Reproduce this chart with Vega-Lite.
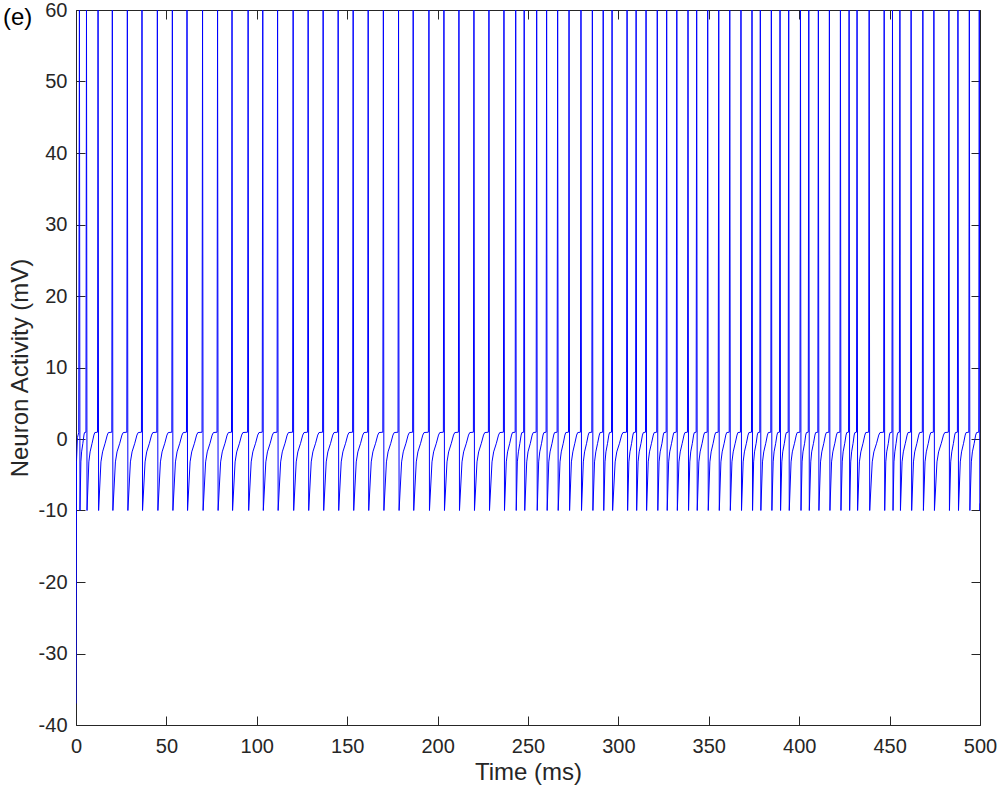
{
  "$schema": "https://vega.github.io/schema/vega-lite/v6.json",
  "width": 904,
  "height": 715,
  "autosize": "none",
  "padding": {"left": 76, "top": 10, "right": 18, "bottom": 63},
  "background": "white",
  "title": {"text": "(e)", "anchor": "start", "frame": "group", "dx": -73, "dy": 34, "fontSize": 24, "fontWeight": "normal", "font": "Liberation Sans", "color": "#000000"},
  "config": {
    "view": {"stroke": null},
    "font": "Liberation Sans",
    "axis": {"domainColor": "#262626", "tickColor": "#262626", "labelColor": "#262626", "titleColor": "#262626", "domainWidth": 1, "tickWidth": 1, "grid": false, "labelFont": "Liberation Sans", "titleFont": "Liberation Sans", "labelFontSize": 20, "titleFontSize": 24, "titleFontWeight": "normal", "tickSize": -9, "labelExpr": "toString(datum.value)"}
  },
  "datasets": {
    "trace": [
{"t":0,"v":-37},{"t":0.3,"v":-3},{"t":0.8,"v":0.2},{"t":1.5,"v":0.9},
{"t":1.9,"v":60},{"t":2.2,"v":-10},{"t":2.7,"v":-3.2},{"t":3.1,"v":-1.8},{"t":3.8,"v":-0.6},{"t":4.4,"v":0.55},{"t":4.7,"v":0.9},{"t":5.5,"v":0.95},
{"t":5.8,"v":60},{"t":6.1,"v":-10},{"t":7.1,"v":-3.2},{"t":7.8,"v":-1.8},{"t":8.9,"v":-0.6},{"t":9.9,"v":0.55},{"t":10.4,"v":0.9},{"t":11.9,"v":0.95},
{"t":12.2,"v":60},{"t":12.5,"v":-10},{"t":13.8,"v":-3.2},{"t":14.7,"v":-1.8},{"t":16.1,"v":-0.6},{"t":17.3,"v":0.55},{"t":17.9,"v":0.9},{"t":19.8,"v":0.95},
{"t":20.1,"v":60},{"t":20.4,"v":-10},{"t":21.8,"v":-3.2},{"t":22.7,"v":-1.8},{"t":24.2,"v":-0.6},{"t":25.4,"v":0.55},{"t":26.1,"v":0.9},{"t":28.1,"v":0.95},
{"t":28.4,"v":60},{"t":28.7,"v":-10},{"t":30.1,"v":-3.2},{"t":31.0,"v":-1.8},{"t":32.5,"v":-0.6},{"t":33.7,"v":0.55},{"t":34.4,"v":0.9},{"t":36.2,"v":0.95},
{"t":36.5,"v":60},{"t":36.8,"v":-10},{"t":38.2,"v":-3.2},{"t":39.1,"v":-1.8},{"t":40.6,"v":-0.6},{"t":41.8,"v":0.55},{"t":42.5,"v":0.9},{"t":44.7,"v":0.95},
{"t":45.0,"v":60},{"t":45.3,"v":-10},{"t":46.7,"v":-3.2},{"t":47.6,"v":-1.8},{"t":49.1,"v":-0.6},{"t":50.3,"v":0.55},{"t":51.0,"v":0.9},{"t":53.0,"v":0.95},
{"t":53.3,"v":60},{"t":53.6,"v":-10},{"t":55.0,"v":-3.2},{"t":55.9,"v":-1.8},{"t":57.4,"v":-0.6},{"t":58.6,"v":0.55},{"t":59.3,"v":0.9},{"t":61.1,"v":0.95},
{"t":61.4,"v":60},{"t":61.7,"v":-10},{"t":63.1,"v":-3.2},{"t":64.0,"v":-1.8},{"t":65.5,"v":-0.6},{"t":66.7,"v":0.55},{"t":67.4,"v":0.9},{"t":69.7,"v":0.95},
{"t":70.0,"v":60},{"t":70.3,"v":-10},{"t":71.7,"v":-3.2},{"t":72.6,"v":-1.8},{"t":74.1,"v":-0.6},{"t":75.3,"v":0.55},{"t":76.0,"v":0.9},{"t":78.0,"v":0.95},
{"t":78.3,"v":60},{"t":78.6,"v":-10},{"t":80.0,"v":-3.2},{"t":80.9,"v":-1.8},{"t":82.4,"v":-0.6},{"t":83.6,"v":0.55},{"t":84.3,"v":0.9},{"t":86.0,"v":0.95},
{"t":86.3,"v":60},{"t":86.6,"v":-10},{"t":88.0,"v":-3.2},{"t":88.9,"v":-1.8},{"t":90.4,"v":-0.6},{"t":91.6,"v":0.55},{"t":92.3,"v":0.9},{"t":94.9,"v":0.95},
{"t":95.2,"v":60},{"t":95.5,"v":-10},{"t":96.9,"v":-3.2},{"t":97.8,"v":-1.8},{"t":99.3,"v":-0.6},{"t":100.5,"v":0.55},{"t":101.2,"v":0.9},{"t":103.0,"v":0.95},
{"t":103.3,"v":60},{"t":103.6,"v":-10},{"t":105.0,"v":-3.2},{"t":105.9,"v":-1.8},{"t":107.4,"v":-0.6},{"t":108.6,"v":0.55},{"t":109.3,"v":0.9},{"t":111.2,"v":0.95},
{"t":111.5,"v":60},{"t":111.8,"v":-10},{"t":113.2,"v":-3.2},{"t":114.1,"v":-1.8},{"t":115.6,"v":-0.6},{"t":116.8,"v":0.55},{"t":117.5,"v":0.9},{"t":119.8,"v":0.95},
{"t":120.1,"v":60},{"t":120.4,"v":-10},{"t":121.8,"v":-3.2},{"t":122.7,"v":-1.8},{"t":124.2,"v":-0.6},{"t":125.4,"v":0.55},{"t":126.1,"v":0.9},{"t":128.1,"v":0.95},
{"t":128.4,"v":60},{"t":128.7,"v":-10},{"t":130.1,"v":-3.2},{"t":131.0,"v":-1.8},{"t":132.5,"v":-0.6},{"t":133.7,"v":0.55},{"t":134.4,"v":0.9},{"t":136.4,"v":0.95},
{"t":136.7,"v":60},{"t":137.0,"v":-10},{"t":138.4,"v":-3.2},{"t":139.3,"v":-1.8},{"t":140.8,"v":-0.6},{"t":142.0,"v":0.55},{"t":142.7,"v":0.9},{"t":144.7,"v":0.95},
{"t":145.0,"v":60},{"t":145.3,"v":-10},{"t":146.7,"v":-3.2},{"t":147.6,"v":-1.8},{"t":149.1,"v":-0.6},{"t":150.3,"v":0.55},{"t":151.0,"v":0.9},{"t":153.0,"v":0.95},
{"t":153.3,"v":60},{"t":153.6,"v":-10},{"t":155.0,"v":-3.2},{"t":155.9,"v":-1.8},{"t":157.4,"v":-0.6},{"t":158.6,"v":0.55},{"t":159.3,"v":0.9},{"t":161.3,"v":0.95},
{"t":161.6,"v":60},{"t":161.9,"v":-10},{"t":163.3,"v":-3.2},{"t":164.2,"v":-1.8},{"t":165.7,"v":-0.6},{"t":166.9,"v":0.55},{"t":167.6,"v":0.9},{"t":169.7,"v":0.95},
{"t":170.0,"v":60},{"t":170.3,"v":-10},{"t":171.7,"v":-3.2},{"t":172.6,"v":-1.8},{"t":174.1,"v":-0.6},{"t":175.3,"v":0.55},{"t":176.0,"v":0.9},{"t":178.1,"v":0.95},
{"t":178.4,"v":60},{"t":178.7,"v":-10},{"t":180.1,"v":-3.2},{"t":181.0,"v":-1.8},{"t":182.5,"v":-0.6},{"t":183.7,"v":0.55},{"t":184.4,"v":0.9},{"t":186.2,"v":0.95},
{"t":186.5,"v":60},{"t":186.8,"v":-10},{"t":188.2,"v":-3.2},{"t":189.1,"v":-1.8},{"t":190.6,"v":-0.6},{"t":191.8,"v":0.55},{"t":192.5,"v":0.9},{"t":194.9,"v":0.95},
{"t":195.2,"v":60},{"t":195.5,"v":-10},{"t":196.9,"v":-3.2},{"t":197.8,"v":-1.8},{"t":199.3,"v":-0.6},{"t":200.5,"v":0.55},{"t":201.2,"v":0.9},{"t":203.2,"v":0.95},
{"t":203.5,"v":60},{"t":203.8,"v":-10},{"t":205.2,"v":-3.2},{"t":206.1,"v":-1.8},{"t":207.6,"v":-0.6},{"t":208.8,"v":0.55},{"t":209.5,"v":0.9},{"t":211.5,"v":0.95},
{"t":211.8,"v":60},{"t":212.1,"v":-10},{"t":213.5,"v":-3.2},{"t":214.4,"v":-1.8},{"t":215.9,"v":-0.6},{"t":217.1,"v":0.55},{"t":217.8,"v":0.9},{"t":219.8,"v":0.95},
{"t":220.1,"v":60},{"t":220.4,"v":-10},{"t":221.8,"v":-3.2},{"t":222.7,"v":-1.8},{"t":224.2,"v":-0.6},{"t":225.4,"v":0.55},{"t":226.1,"v":0.9},{"t":228.1,"v":0.95},
{"t":228.4,"v":60},{"t":228.7,"v":-10},{"t":230.1,"v":-3.2},{"t":231.0,"v":-1.8},{"t":232.5,"v":-0.6},{"t":233.7,"v":0.55},{"t":234.4,"v":0.9},{"t":236.4,"v":0.95},
{"t":236.7,"v":60},{"t":237.0,"v":-10},{"t":238.0,"v":-3.2},{"t":238.7,"v":-1.8},{"t":239.9,"v":-0.6},{"t":240.9,"v":0.55},{"t":241.4,"v":0.9},{"t":242.9,"v":0.95},
{"t":243.2,"v":60},{"t":243.5,"v":-10},{"t":244.1,"v":-3.2},{"t":244.7,"v":-1.8},{"t":245.5,"v":-0.6},{"t":246.2,"v":0.55},{"t":246.6,"v":0.9},{"t":247.6,"v":0.95},
{"t":247.9,"v":60},{"t":248.2,"v":-10},{"t":249.3,"v":-3.2},{"t":250.0,"v":-1.8},{"t":251.3,"v":-0.6},{"t":252.3,"v":0.55},{"t":252.9,"v":0.9},{"t":254.5,"v":0.95},
{"t":254.8,"v":60},{"t":255.1,"v":-10},{"t":255.9,"v":-3.2},{"t":256.5,"v":-1.8},{"t":257.5,"v":-0.6},{"t":258.3,"v":0.55},{"t":258.8,"v":0.9},{"t":260.0,"v":0.95},
{"t":260.3,"v":60},{"t":260.6,"v":-10},{"t":261.5,"v":-3.2},{"t":262.2,"v":-1.8},{"t":263.3,"v":-0.6},{"t":264.2,"v":0.55},{"t":264.7,"v":0.9},{"t":266.1,"v":0.95},
{"t":266.4,"v":60},{"t":266.7,"v":-10},{"t":267.7,"v":-3.2},{"t":268.4,"v":-1.8},{"t":269.5,"v":-0.6},{"t":270.4,"v":0.55},{"t":270.9,"v":0.9},{"t":272.4,"v":0.95},
{"t":272.7,"v":60},{"t":273.0,"v":-10},{"t":274.0,"v":-3.2},{"t":274.8,"v":-1.8},{"t":275.9,"v":-0.6},{"t":276.9,"v":0.55},{"t":277.5,"v":0.9},{"t":279.0,"v":0.95},
{"t":279.3,"v":60},{"t":279.6,"v":-10},{"t":280.6,"v":-3.2},{"t":281.3,"v":-1.8},{"t":282.4,"v":-0.6},{"t":283.3,"v":0.55},{"t":283.8,"v":0.9},{"t":285.3,"v":0.95},
{"t":285.6,"v":60},{"t":285.9,"v":-10},{"t":286.8,"v":-3.2},{"t":287.5,"v":-1.8},{"t":288.5,"v":-0.6},{"t":289.4,"v":0.55},{"t":289.9,"v":0.9},{"t":291.3,"v":0.95},
{"t":291.6,"v":60},{"t":291.9,"v":-10},{"t":292.6,"v":-3.2},{"t":293.1,"v":-1.8},{"t":294.0,"v":-0.6},{"t":294.7,"v":0.55},{"t":295.1,"v":0.9},{"t":296.2,"v":0.95},
{"t":296.5,"v":60},{"t":296.8,"v":-10},{"t":298.2,"v":-3.2},{"t":299.1,"v":-1.8},{"t":300.6,"v":-0.6},{"t":301.8,"v":0.55},{"t":302.5,"v":0.9},{"t":304.5,"v":0.95},
{"t":304.8,"v":60},{"t":305.1,"v":-10},{"t":305.8,"v":-3.2},{"t":306.4,"v":-1.8},{"t":307.3,"v":-0.6},{"t":308.0,"v":0.55},{"t":308.4,"v":0.9},{"t":309.5,"v":0.95},
{"t":309.8,"v":60},{"t":310.1,"v":-10},{"t":310.9,"v":-3.2},{"t":311.5,"v":-1.8},{"t":312.5,"v":-0.6},{"t":313.3,"v":0.55},{"t":313.8,"v":0.9},{"t":315.0,"v":0.95},
{"t":315.3,"v":60},{"t":315.6,"v":-10},{"t":316.5,"v":-3.2},{"t":317.2,"v":-1.8},{"t":318.3,"v":-0.6},{"t":319.3,"v":0.55},{"t":319.8,"v":0.9},{"t":321.2,"v":0.95},
{"t":321.5,"v":60},{"t":321.8,"v":-10},{"t":322.5,"v":-3.2},{"t":323.1,"v":-1.8},{"t":324.1,"v":-0.6},{"t":324.8,"v":0.55},{"t":325.2,"v":0.9},{"t":326.4,"v":0.95},
{"t":326.7,"v":60},{"t":327.0,"v":-10},{"t":327.8,"v":-3.2},{"t":328.4,"v":-1.8},{"t":329.4,"v":-0.6},{"t":330.3,"v":0.55},{"t":330.7,"v":0.9},{"t":332.0,"v":0.95},
{"t":332.3,"v":60},{"t":332.6,"v":-10},{"t":333.5,"v":-3.2},{"t":334.2,"v":-1.8},{"t":335.3,"v":-0.6},{"t":336.3,"v":0.55},{"t":336.8,"v":0.9},{"t":338.2,"v":0.95},
{"t":338.5,"v":60},{"t":338.8,"v":-10},{"t":339.5,"v":-3.2},{"t":340.0,"v":-1.8},{"t":340.9,"v":-0.6},{"t":341.6,"v":0.55},{"t":342.0,"v":0.9},{"t":343.0,"v":0.95},
{"t":343.3,"v":60},{"t":343.6,"v":-10},{"t":344.5,"v":-3.2},{"t":345.2,"v":-1.8},{"t":346.3,"v":-0.6},{"t":347.2,"v":0.55},{"t":347.7,"v":0.9},{"t":349.1,"v":0.95},
{"t":349.4,"v":60},{"t":349.7,"v":-10},{"t":350.6,"v":-3.2},{"t":351.3,"v":-1.8},{"t":352.4,"v":-0.6},{"t":353.3,"v":0.55},{"t":353.8,"v":0.9},{"t":355.2,"v":0.95},
{"t":355.5,"v":60},{"t":355.8,"v":-10},{"t":356.7,"v":-3.2},{"t":357.4,"v":-1.8},{"t":358.5,"v":-0.6},{"t":359.4,"v":0.55},{"t":359.9,"v":0.9},{"t":361.3,"v":0.95},
{"t":361.6,"v":60},{"t":361.9,"v":-10},{"t":362.8,"v":-3.2},{"t":363.5,"v":-1.8},{"t":364.6,"v":-0.6},{"t":365.6,"v":0.55},{"t":366.1,"v":0.9},{"t":367.5,"v":0.95},
{"t":367.8,"v":60},{"t":368.1,"v":-10},{"t":369.0,"v":-3.2},{"t":369.7,"v":-1.8},{"t":370.8,"v":-0.6},{"t":371.7,"v":0.55},{"t":372.2,"v":0.9},{"t":373.6,"v":0.95},
{"t":373.9,"v":60},{"t":374.2,"v":-10},{"t":374.8,"v":-3.2},{"t":375.3,"v":-1.8},{"t":376.2,"v":-0.6},{"t":376.8,"v":0.55},{"t":377.2,"v":0.9},{"t":378.2,"v":0.95},
{"t":378.5,"v":60},{"t":378.8,"v":-10},{"t":379.7,"v":-3.2},{"t":380.4,"v":-1.8},{"t":381.5,"v":-0.6},{"t":382.4,"v":0.55},{"t":382.9,"v":0.9},{"t":384.3,"v":0.95},
{"t":384.6,"v":60},{"t":384.9,"v":-10},{"t":385.6,"v":-3.2},{"t":386.1,"v":-1.8},{"t":387.0,"v":-0.6},{"t":387.7,"v":0.55},{"t":388.1,"v":0.9},{"t":389.1,"v":0.95},
{"t":389.4,"v":60},{"t":389.7,"v":-10},{"t":390.4,"v":-3.2},{"t":390.9,"v":-1.8},{"t":391.8,"v":-0.6},{"t":392.5,"v":0.55},{"t":392.9,"v":0.9},{"t":393.9,"v":0.95},
{"t":394.2,"v":60},{"t":394.5,"v":-10},{"t":395.5,"v":-3.2},{"t":396.2,"v":-1.8},{"t":397.4,"v":-0.6},{"t":398.4,"v":0.55},{"t":398.9,"v":0.9},{"t":400.4,"v":0.95},
{"t":400.7,"v":60},{"t":401.0,"v":-10},{"t":401.6,"v":-3.2},{"t":402.1,"v":-1.8},{"t":403.0,"v":-0.6},{"t":403.6,"v":0.55},{"t":404.0,"v":0.9},{"t":405.0,"v":0.95},
{"t":405.3,"v":60},{"t":405.6,"v":-10},{"t":406.4,"v":-3.2},{"t":406.9,"v":-1.8},{"t":407.9,"v":-0.6},{"t":408.7,"v":0.55},{"t":409.1,"v":0.9},{"t":410.3,"v":0.95},
{"t":410.6,"v":60},{"t":410.9,"v":-10},{"t":411.8,"v":-3.2},{"t":412.5,"v":-1.8},{"t":413.6,"v":-0.6},{"t":414.5,"v":0.55},{"t":415.0,"v":0.9},{"t":416.4,"v":0.95},
{"t":416.7,"v":60},{"t":417.0,"v":-10},{"t":417.9,"v":-3.2},{"t":418.6,"v":-1.8},{"t":419.7,"v":-0.6},{"t":420.6,"v":0.55},{"t":421.1,"v":0.9},{"t":422.5,"v":0.95},
{"t":422.8,"v":60},{"t":423.1,"v":-10},{"t":423.8,"v":-3.2},{"t":424.3,"v":-1.8},{"t":425.2,"v":-0.6},{"t":425.9,"v":0.55},{"t":426.3,"v":0.9},{"t":427.3,"v":0.95},
{"t":427.6,"v":60},{"t":427.9,"v":-10},{"t":428.5,"v":-3.2},{"t":429.0,"v":-1.8},{"t":429.8,"v":-0.6},{"t":430.4,"v":0.55},{"t":430.8,"v":0.9},{"t":431.7,"v":0.95},
{"t":432.0,"v":60},{"t":432.3,"v":-10},{"t":433.3,"v":-3.2},{"t":434.1,"v":-1.8},{"t":435.3,"v":-0.6},{"t":436.3,"v":0.55},{"t":436.8,"v":0.9},{"t":438.4,"v":0.95},
{"t":438.7,"v":60},{"t":439.0,"v":-10},{"t":440.4,"v":-3.2},{"t":441.3,"v":-1.8},{"t":442.8,"v":-0.6},{"t":444.0,"v":0.55},{"t":444.7,"v":0.9},{"t":446.7,"v":0.95},
{"t":447.0,"v":60},{"t":447.3,"v":-10},{"t":447.9,"v":-3.2},{"t":448.4,"v":-1.8},{"t":449.3,"v":-0.6},{"t":449.9,"v":0.55},{"t":450.3,"v":0.9},{"t":451.3,"v":0.95},
{"t":451.6,"v":60},{"t":451.9,"v":-10},{"t":452.4,"v":-3.2},{"t":452.9,"v":-1.8},{"t":453.6,"v":-0.6},{"t":454.2,"v":0.55},{"t":454.6,"v":0.9},{"t":455.4,"v":0.95},
{"t":455.7,"v":60},{"t":456.0,"v":-10},{"t":456.9,"v":-3.2},{"t":457.6,"v":-1.8},{"t":458.7,"v":-0.6},{"t":459.7,"v":0.55},{"t":460.2,"v":0.9},{"t":461.6,"v":0.95},
{"t":461.9,"v":60},{"t":462.2,"v":-10},{"t":463.2,"v":-3.2},{"t":463.9,"v":-1.8},{"t":465.1,"v":-0.6},{"t":466.1,"v":0.55},{"t":466.6,"v":0.9},{"t":468.1,"v":0.95},
{"t":468.4,"v":60},{"t":468.7,"v":-10},{"t":469.6,"v":-3.2},{"t":470.3,"v":-1.8},{"t":471.4,"v":-0.6},{"t":472.3,"v":0.55},{"t":472.8,"v":0.9},{"t":474.2,"v":0.95},
{"t":474.5,"v":60},{"t":474.8,"v":-10},{"t":476.2,"v":-3.2},{"t":477.1,"v":-1.8},{"t":478.6,"v":-0.6},{"t":479.8,"v":0.55},{"t":480.5,"v":0.9},{"t":482.5,"v":0.95},
{"t":482.8,"v":60},{"t":483.1,"v":-10},{"t":483.8,"v":-3.2},{"t":484.4,"v":-1.8},{"t":485.3,"v":-0.6},{"t":486.0,"v":0.55},{"t":486.4,"v":0.9},{"t":487.5,"v":0.95},
{"t":487.8,"v":60},{"t":488.1,"v":-10},{"t":489.1,"v":-3.2},{"t":489.8,"v":-1.8},{"t":490.9,"v":-0.6},{"t":491.8,"v":0.55},{"t":492.3,"v":0.9},{"t":493.8,"v":0.95},
{"t":494.1,"v":60},{"t":494.4,"v":-10},{"t":495.2,"v":-3.2},{"t":495.8,"v":-1.8},{"t":496.8,"v":-0.6},{"t":497.6,"v":0.55},{"t":498.1,"v":0.9},{"t":499.3,"v":0.95},
{"t":499.6,"v":60},{"t":499.9,"v":-10},{"t":500,"v":-9}
    ],
    "frame": [{"t": 0, "v": 0}]
  },
  "layer": [
    {
      "data": {"name": "trace"},
      "mark": {"type": "line", "color": "#0000FF", "strokeWidth": 1, "clip": true, "interpolate": "linear"},
      "encoding": {
        "x": {"field": "t", "type": "quantitative", "scale": {"domain": [0, 500], "nice": false, "zero": false}, "axis": {"orient": "bottom", "title": "Time (ms)", "values": [0,50,100,150,200,250,300,350,400,450,500], "labelPadding": 20, "titlePadding": 4, "labelFlush": false}},
        "y": {"field": "v", "type": "quantitative", "scale": {"domain": [-40, 60], "nice": false, "zero": false}, "axis": {"orient": "left", "title": "Neuron Activity (mV)", "values": [-40,-30,-20,-10,0,10,20,30,40,50,60], "labelPadding": 18, "titlePadding": 6, "labelFlush": false}}
      }
    },
    {
      "data": {"name": "frame"},
      "mark": {"type": "point", "opacity": 0},
      "encoding": {
        "x": {"field": "t", "type": "quantitative", "scale": {"domain": [0, 500], "nice": false, "zero": false}, "axis": {"orient": "top", "title": null, "labels": false, "values": [0,50,100,150,200,250,300,350,400,450,500]}},
        "y": {"field": "v", "type": "quantitative", "scale": {"domain": [-40, 60], "nice": false, "zero": false}, "axis": {"orient": "right", "title": null, "labels": false, "values": [-40,-30,-20,-10,0,10,20,30,40,50,60]}}
      }
    }
  ],
  "resolve": {"scale": {"x": "independent", "y": "independent"}, "axis": {"x": "independent", "y": "independent"}}
}
